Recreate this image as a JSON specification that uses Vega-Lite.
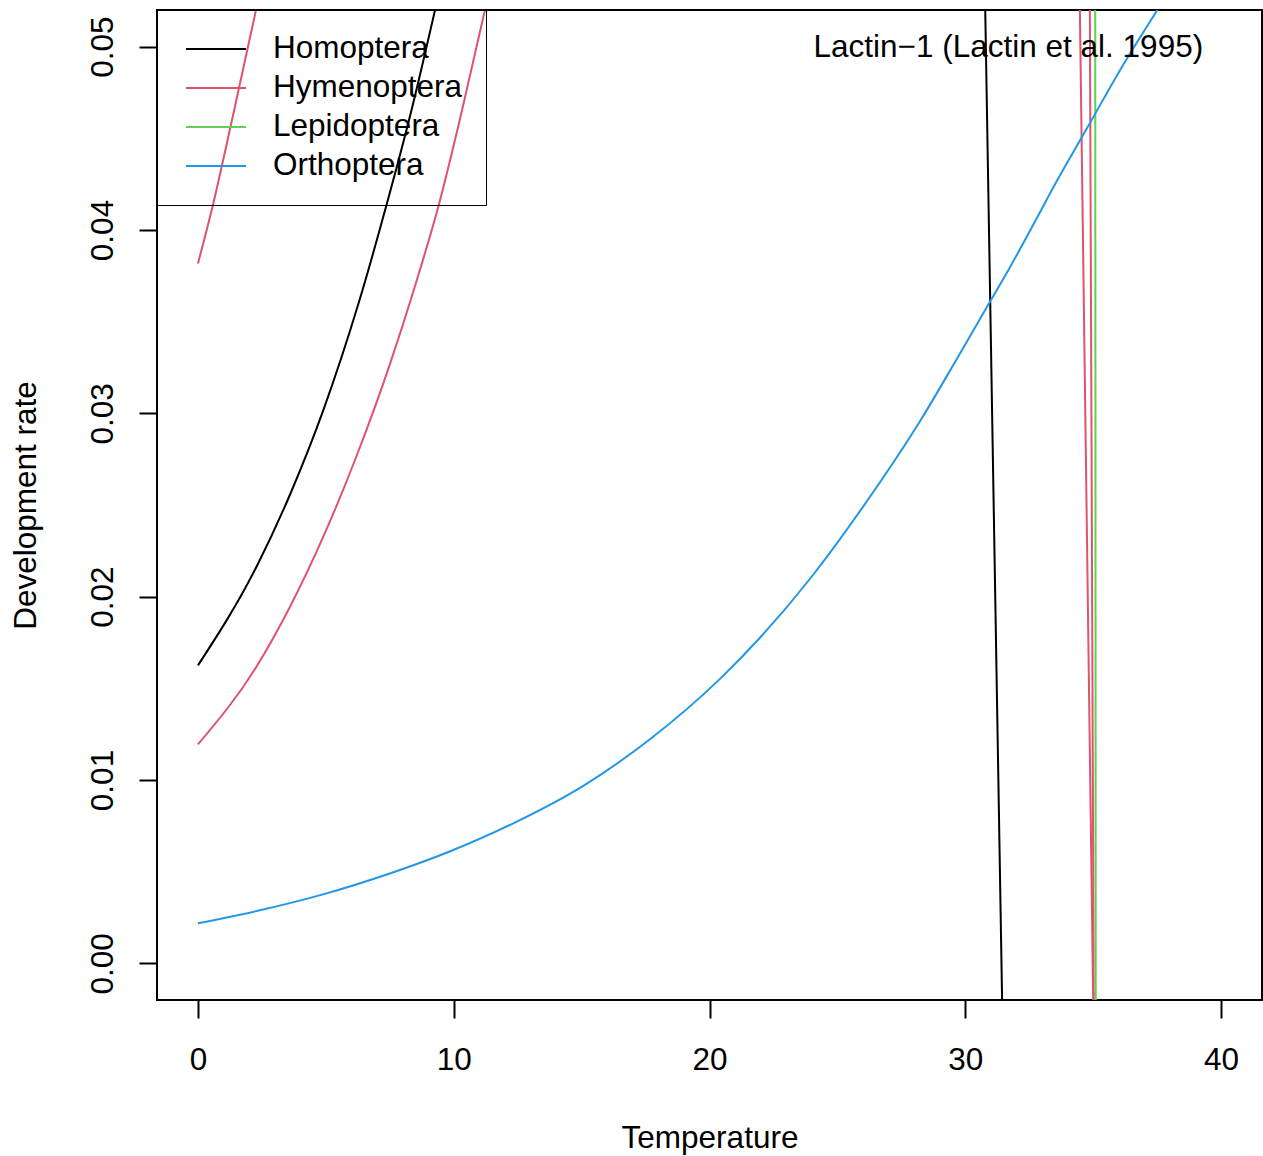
{
  "$schema": "https://vega.github.io/schema/vega-lite/v6.json",
  "width": 1105,
  "height": 990,
  "autosize": {"type": "none"},
  "padding": {"left": 157, "top": 10, "right": 1, "bottom": 156},
  "background": "white",
  "config": {
    "view": {"stroke": "#000000", "strokeWidth": 2},
    "font": "Liberation Sans",
    "axis": {
      "grid": false,
      "domain": false,
      "tickColor": "#000000",
      "tickWidth": 2,
      "tickSize": 18,
      "labelFont": "Liberation Sans",
      "labelFontSize": 31.5,
      "labelColor": "#000000",
      "titleFont": "Liberation Sans",
      "titleFontSize": 31.5,
      "titleFontWeight": "normal",
      "titleColor": "#000000"
    }
  },
  "layer": [
    {
      "data": {
        "values": [
          {"order": "Homoptera", "curve": "h1", "temperature": 0, "rate": 0.01625},
          {"order": "Homoptera", "curve": "h1", "temperature": 2.3, "rate": 0.02166},
          {"order": "Homoptera", "curve": "h1", "temperature": 3.61, "rate": 0.0256},
          {"order": "Homoptera", "curve": "h1", "temperature": 4.91, "rate": 0.0302},
          {"order": "Homoptera", "curve": "h1", "temperature": 6.28, "rate": 0.036},
          {"order": "Homoptera", "curve": "h1", "temperature": 7.38, "rate": 0.0414},
          {"order": "Homoptera", "curve": "h1", "temperature": 8.29, "rate": 0.0462},
          {"order": "Homoptera", "curve": "h1", "temperature": 9.27, "rate": 0.052},
          {"order": "Homoptera", "curve": "h2", "temperature": 30.78, "rate": 0.052},
          {"order": "Homoptera", "curve": "h2", "temperature": 31.44, "rate": -0.002},
          {"order": "Hymenoptera", "curve": "y1", "temperature": 0, "rate": 0.03817},
          {"order": "Hymenoptera", "curve": "y1", "temperature": 0.61, "rate": 0.0415},
          {"order": "Hymenoptera", "curve": "y1", "temperature": 1.0, "rate": 0.0439},
          {"order": "Hymenoptera", "curve": "y1", "temperature": 1.52, "rate": 0.0472},
          {"order": "Hymenoptera", "curve": "y1", "temperature": 2.27, "rate": 0.052},
          {"order": "Hymenoptera", "curve": "y2", "temperature": 0, "rate": 0.01194},
          {"order": "Hymenoptera", "curve": "y2", "temperature": 2.3, "rate": 0.01621},
          {"order": "Hymenoptera", "curve": "y2", "temperature": 3.61, "rate": 0.01948},
          {"order": "Hymenoptera", "curve": "y2", "temperature": 4.91, "rate": 0.0233},
          {"order": "Hymenoptera", "curve": "y2", "temperature": 6.21, "rate": 0.0277},
          {"order": "Hymenoptera", "curve": "y2", "temperature": 7.51, "rate": 0.0327},
          {"order": "Hymenoptera", "curve": "y2", "temperature": 8.5, "rate": 0.037},
          {"order": "Hymenoptera", "curve": "y2", "temperature": 9.46, "rate": 0.0416},
          {"order": "Hymenoptera", "curve": "y2", "temperature": 10.37, "rate": 0.0468},
          {"order": "Hymenoptera", "curve": "y2", "temperature": 11.22, "rate": 0.052},
          {"order": "Hymenoptera", "curve": "y3", "temperature": 34.48, "rate": 0.052},
          {"order": "Hymenoptera", "curve": "y3", "temperature": 35.0, "rate": -0.002},
          {"order": "Hymenoptera", "curve": "y4", "temperature": 34.87, "rate": 0.052},
          {"order": "Hymenoptera", "curve": "y4", "temperature": 35.02, "rate": -0.002},
          {"order": "Lepidoptera", "curve": "l1", "temperature": 35.08, "rate": 0.052},
          {"order": "Lepidoptera", "curve": "l1", "temperature": 35.1, "rate": -0.002},
          {"order": "Orthoptera", "curve": "o1", "temperature": 0, "rate": 0.00218},
          {"order": "Orthoptera", "curve": "o1", "temperature": 2.29, "rate": 0.00285},
          {"order": "Orthoptera", "curve": "o1", "temperature": 4.89, "rate": 0.00376},
          {"order": "Orthoptera", "curve": "o1", "temperature": 7.5, "rate": 0.0049},
          {"order": "Orthoptera", "curve": "o1", "temperature": 9.84, "rate": 0.0061},
          {"order": "Orthoptera", "curve": "o1", "temperature": 12.45, "rate": 0.00772},
          {"order": "Orthoptera", "curve": "o1", "temperature": 15.05, "rate": 0.00967},
          {"order": "Orthoptera", "curve": "o1", "temperature": 17.66, "rate": 0.01221},
          {"order": "Orthoptera", "curve": "o1", "temperature": 20.39, "rate": 0.01549},
          {"order": "Orthoptera", "curve": "o1", "temperature": 22, "rate": 0.0178},
          {"order": "Orthoptera", "curve": "o1", "temperature": 24, "rate": 0.0211},
          {"order": "Orthoptera", "curve": "o1", "temperature": 26, "rate": 0.0249},
          {"order": "Orthoptera", "curve": "o1", "temperature": 28.27, "rate": 0.02966},
          {"order": "Orthoptera", "curve": "o1", "temperature": 29.6, "rate": 0.0328},
          {"order": "Orthoptera", "curve": "o1", "temperature": 30.94, "rate": 0.03603},
          {"order": "Orthoptera", "curve": "o1", "temperature": 31.72, "rate": 0.0379},
          {"order": "Orthoptera", "curve": "o1", "temperature": 32.7, "rate": 0.0404},
          {"order": "Orthoptera", "curve": "o1", "temperature": 33.61, "rate": 0.04275},
          {"order": "Orthoptera", "curve": "o1", "temperature": 34.84, "rate": 0.04575},
          {"order": "Orthoptera", "curve": "o1", "temperature": 36.02, "rate": 0.04865},
          {"order": "Orthoptera", "curve": "o1", "temperature": 37.51, "rate": 0.052}
        ]
      },
      "mark": {"type": "line", "clip": true, "strokeWidth": 2, "interpolate": "monotone"},
      "encoding": {
        "x": {
          "field": "temperature",
          "type": "quantitative",
          "scale": {"domain": [-1.6, 41.6], "nice": false, "zero": false},
          "axis": {
            "values": [0, 10, 20, 30, 40],
            "format": "d",
            "labelBaseline": "alphabetic",
            "labelPadding": 51,
            "title": "Temperature",
            "titleBaseline": "alphabetic",
            "titleY": 147,
            "titleX": 552.5,
            "titleAlign": "center"
          }
        },
        "y": {
          "field": "rate",
          "type": "quantitative",
          "scale": {"domain": [-0.002, 0.052], "nice": false, "zero": false},
          "axis": {
            "values": [0, 0.01, 0.02, 0.03, 0.04, 0.05],
            "format": ".2f",
            "labelAngle": 270,
            "labelAlign": "center",
            "labelBaseline": "alphabetic",
            "labelPadding": 27,
            "title": "Development rate",
            "titleAngle": 270,
            "titleAlign": "center",
            "titleBaseline": "alphabetic",
            "titleX": -122,
            "titleY": 495
          }
        },
        "color": {
          "field": "order",
          "type": "nominal",
          "scale": {
            "domain": ["Homoptera", "Hymenoptera", "Lepidoptera", "Orthoptera"],
            "range": ["#000000", "#DF536B", "#61D04F", "#2297E6"]
          },
          "legend": {
            "orient": "none",
            "legendX": 0,
            "legendY": 0,
            "title": null,
            "symbolType": "M-2,0H2",
            "symbolSize": 900,
            "symbolStrokeWidth": 2,
            "labelFont": "Liberation Sans",
            "labelFontSize": 31.5,
            "labelColor": "#000000",
            "labelLimit": 500,
            "padding": 23,
            "rowPadding": 7,
            "labelOffset": 41,
            "symbolOffset": 20,
            "strokeColor": "#000000"
          }
        },
        "detail": {"field": "curve"}
      }
    },
    {
      "data": {"values": [{}]},
      "mark": {
        "type": "text",
        "align": "right",
        "baseline": "alphabetic",
        "font": "Liberation Sans",
        "fontSize": 31.5,
        "color": "#000000"
      },
      "encoding": {
        "x": {"datum": 39.3, "type": "quantitative"},
        "y": {"datum": 0.04945, "type": "quantitative"},
        "text": {"value": "Lactin−1 (Lactin et al. 1995)"}
      }
    }
  ]
}
